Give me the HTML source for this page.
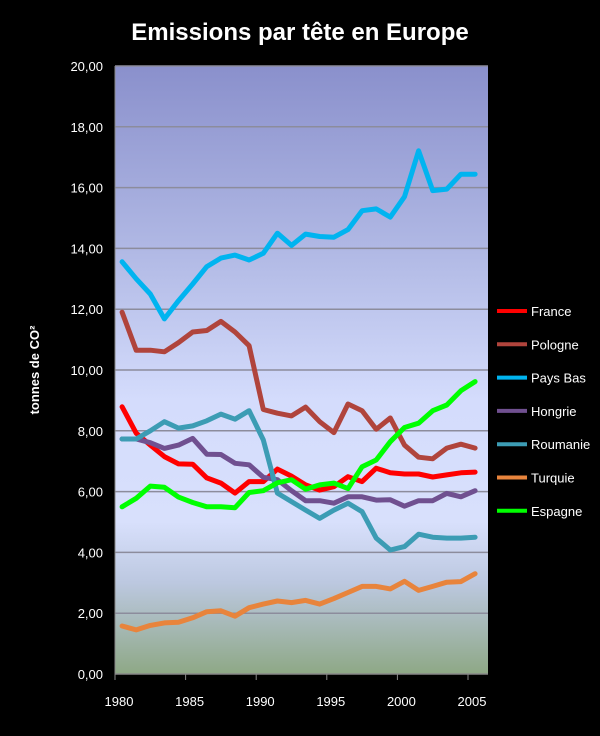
<!DOCTYPE html>
<html><head><meta charset="utf-8"><style>
html,body{margin:0;padding:0;background:#000;width:600px;height:736px;overflow:hidden}
svg{display:block}
text{font-family:"Liberation Sans",sans-serif}
</style></head><body>
<svg id="chart" width="600" height="736" xmlns="http://www.w3.org/2000/svg">
<defs>
<linearGradient id="bg" x1="0" y1="0" x2="0" y2="1">
<stop offset="0" stop-color="#8a90cc"/>
<stop offset="0.3" stop-color="#b0b8e4"/>
<stop offset="0.55" stop-color="#d4dcfc"/>
<stop offset="0.75" stop-color="#d8e0fc"/>
<stop offset="0.85" stop-color="#bcc8e0"/>
<stop offset="1" stop-color="#8ea886"/>
</linearGradient>
</defs>
<rect x="0" y="0" width="600" height="736" fill="#000"/>
<text x="300" y="40" text-anchor="middle" fill="#fff" font-size="24" font-weight="bold">Emissions par tête en Europe</text>
<rect x="115" y="66" width="373" height="608" fill="url(#bg)"/>
<g id="grid"></g>
<g id="yticks"></g>
<g id="xticks"></g>
<text transform="translate(39,370) rotate(-90)" text-anchor="middle" fill="#fff" font-size="13" font-weight="bold">tonnes de CO²</text>
<g id="series"></g>
<g id="legend"></g>
</svg>
<script>
const years = [1980,1981,1982,1983,1984,1985,1986,1987,1988,1989,1990,1991,1992,1993,1994,1995,1996,1997,1998,1999,2000,2001,2002,2003,2004,2005];
const seriesNames = ["France","Pologne","Pays Bas","Hongrie","Roumanie","Turquie","Espagne"];
const seriesColors = ["#ff0000","#b0443c","#00b4f0","#705090","#3c9cb4","#e8843c","#00ff00"];
const france = [8.79,7.92,7.53,7.15,6.91,6.9,6.45,6.28,5.95,6.33,6.33,6.74,6.51,6.22,6.05,6.16,6.49,6.33,6.77,6.62,6.58,6.58,6.48,6.55,6.62,6.64];
const pologne = [11.9,10.65,10.65,10.6,10.9,11.25,11.3,11.6,11.25,10.8,8.7,8.58,8.49,8.78,8.3,7.94,8.88,8.66,8.05,8.42,7.53,7.13,7.08,7.43,7.56,7.43];
const paysBas = [13.56,13.0,12.5,11.68,12.28,12.83,13.4,13.68,13.78,13.62,13.84,14.5,14.1,14.47,14.39,14.37,14.62,15.24,15.3,15.03,15.7,17.21,15.9,15.95,16.44,16.44];
const hongrie = [7.73,7.73,7.61,7.42,7.53,7.75,7.23,7.22,6.93,6.88,6.47,6.39,6.03,5.7,5.7,5.62,5.83,5.83,5.72,5.73,5.52,5.7,5.7,5.94,5.83,6.03];
const roumanie = [7.73,7.73,8.0,8.3,8.09,8.16,8.33,8.55,8.38,8.66,7.7,5.95,5.67,5.39,5.12,5.39,5.62,5.34,4.47,4.08,4.19,4.6,4.5,4.47,4.47,4.5];
const turquie = [1.58,1.45,1.6,1.68,1.7,1.85,2.05,2.08,1.9,2.18,2.3,2.4,2.35,2.42,2.3,2.48,2.68,2.88,2.88,2.8,3.05,2.75,2.88,3.02,3.04,3.3];
const espagne = [5.5,5.78,6.18,6.14,5.82,5.64,5.5,5.5,5.47,5.97,6.03,6.29,6.39,6.08,6.22,6.28,6.1,6.82,7.04,7.64,8.11,8.25,8.66,8.85,9.32,9.62];
const yTickValues = [0,2,4,6,8,10,12,14,16,18,20];
const yTickLabels = ["0,00","2,00","4,00","6,00","8,00","10,00","12,00","14,00","16,00","18,00","20,00"];
const xTickLabels = ["1980","1985","1990","1995","2000","2005"];

const allSeries = [france,pologne,paysBas,hongrie,roumanie,turquie,espagne];
const NS = "http://www.w3.org/2000/svg";
const L = 115, R = 488, T = 66, B = 674, YMAX = 20;
const band = 14.12;
function xScale(i){ return L + band * (i + 0.5); }
function yScale(v){ return B - (v / YMAX) * (B - T); }
function mk(tag, attrs, parent){ const e = document.createElementNS(NS, tag); for (const k in attrs) e.setAttribute(k, attrs[k]); parent.appendChild(e); return e; }

const grid = document.getElementById('grid');
const yt = document.getElementById('yticks');
yTickValues.forEach((v, i) => {
  const y = yScale(v);
  if (v > 0) {
    const gl = mk('line', {x1:L, x2:R, y1:y, y2:y, stroke:'#8c8c9c', 'stroke-width':1.5}, grid);
    
    
  }
  const t = mk('text', {x:103, y:y + 5, 'text-anchor':'end', fill:'#fff', 'font-size':13}, yt);
  t.textContent = yTickLabels[i];
  
  
});
const axY = mk('line', {x1:L, x2:L, y1:T, y2:B, stroke:'#888', 'stroke-width':1}, grid);


const axX = mk('line', {x1:L, x2:R, y1:B, y2:B, stroke:'#888', 'stroke-width':1.5}, grid);



const xt = document.getElementById('xticks');
xTickLabels.forEach((lab, j) => {
  const idx = years.indexOf(+lab);
  const tx = L + band * idx;
  const tk = mk('line', {x1:tx, x2:tx, y1:B, y2:B + 6, stroke:'#888', 'stroke-width':1}, xt);
  
  
  const t = mk('text', {x:tx + 4, y:706, 'text-anchor':'middle', fill:'#fff', 'font-size':13}, xt);
  t.textContent = lab;
  
  
});

const sg = document.getElementById('series');
const lg = document.getElementById('legend');
allSeries.forEach((vals, s) => {
  const pts = vals.map((v, i) => xScale(i).toFixed(1) + ',' + yScale(v).toFixed(1)).join(' ');
  const pl = mk('polyline', {points:pts, fill:'none', stroke:seriesColors[s], 'stroke-width':5, 'stroke-linejoin':'round', 'stroke-linecap':'round'}, sg);
  
  
  const ly = 311 + s * 33.3;
  const ll = mk('line', {x1:497, x2:527, y1:ly, y2:ly, stroke:seriesColors[s], 'stroke-width':4}, lg);
  
  
  const lt = mk('text', {x:531, y:ly + 5, fill:'#fff', 'font-size':13}, lg);
  lt.textContent = seriesNames[s];
  
  
});
</script>
</body></html>
